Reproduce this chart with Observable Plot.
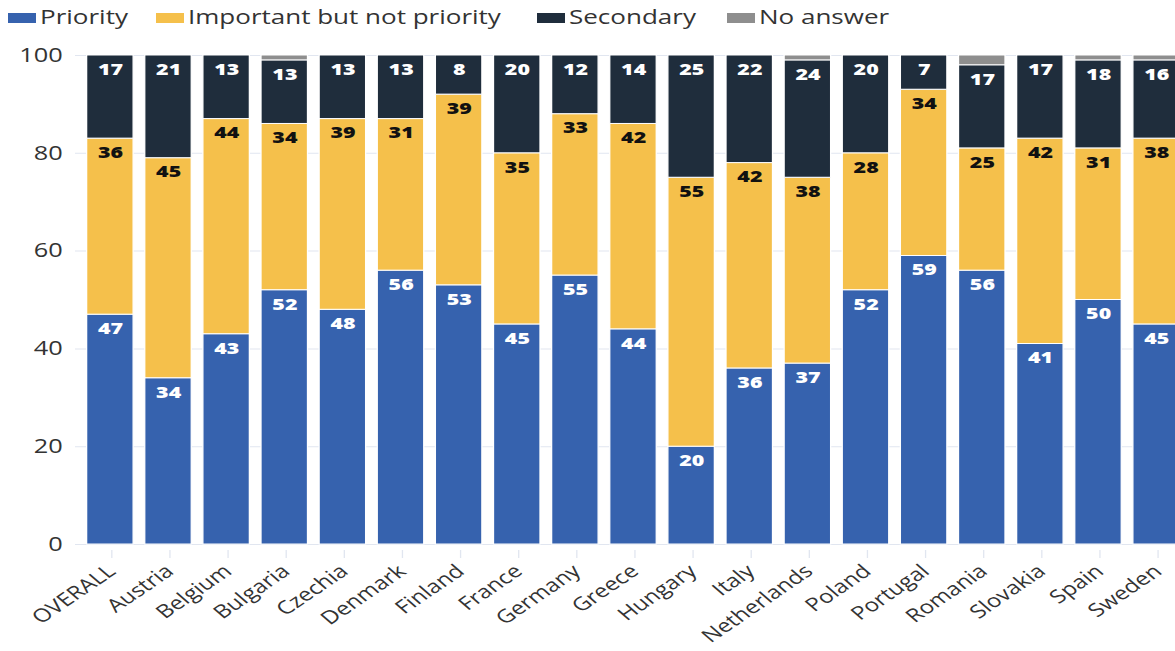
<!DOCTYPE html>
<html><head><meta charset="utf-8">
<script src="https://cdn.jsdelivr.net/npm/d3@7"></script>
<script src="https://cdn.jsdelivr.net/npm/@observablehq/plot@0.6"></script>
<style>
body{margin:0;background:#fff;overflow:hidden;font-family:"Open Sans",sans-serif;}
#legend{height:36px;position:relative;font-size:20px;color:#333;white-space:nowrap;}
#legend .sw{position:absolute;top:13px;height:10px;}
#legend .tx{position:absolute;top:3px;line-height:28px;transform:scaleX(1.3);transform-origin:0 0;}
#chart svg{max-width:none !important;display:block;}
</style></head>
<body>
<div id="legend"></div>
<div id="chart"></div>
<script>
const categories = ["OVERALL","Austria","Belgium","Bulgaria","Czechia","Denmark","Finland","France","Germany","Greece","Hungary","Italy","Netherlands","Poland","Portugal","Romania","Slovakia","Spain","Sweden"];
const priority  = [47,34,43,52,48,56,53,45,55,44,20,36,37,52,59,56,41,50,45];
const important = [36,45,44,34,39,31,39,35,33,42,55,42,38,28,34,25,42,31,38];
const secondary = [17,21,13,13,13,13,8,20,12,14,25,22,24,20,7,17,17,18,16];
const noAnswer  = [0,0,0,1,0,0,0,0,0,0,0,0,1,0,0,2,0,1,1];
const seriesNames = ["Priority","Important but not priority","Secondary","No answer"];
const seriesColors = ["#3662ae","#f5c04b","#1f2d3c","#8e8e8e"];
const labelColors = ["#ffffff","#111111","#ffffff",null];
const yTicks = [0,20,40,60,80,100];

const seriesValues = [priority, important, secondary, noAnswer];
const rows = [];
categories.forEach((c, i) => {
  seriesValues.forEach((vals, s) => {
    rows.push({category: c, series: seriesNames[s], order: s, value: vals[i]});
  });
});

// legend layout (page pixels)
const legendSwatchX = [8, 156, 537, 727];
const legendSwatchW = 28;
const legend = document.getElementById("legend");
seriesNames.forEach((n, i) => {
  const sw = document.createElement("div"); sw.className = "sw";
  sw.style.left = legendSwatchX[i] + "px"; sw.style.width = legendSwatchW + "px";
  sw.style.background = seriesColors[i];
  const t = document.createElement("span"); t.className = "tx"; t.textContent = n;
  t.style.left = (legendSwatchX[i] + legendSwatchW + 4) + "px";
  legend.appendChild(sw); legend.appendChild(t);
});

// The reference is horizontally stretched; draw at a narrower width and stretch the SVG.
const stretch = 1.3;
const outW = 1193, outH = 615;
const W = outW / stretch;

const stackOpts = {x: "category", y: "value", z: "series"};
const labelRows = rows.filter(d => d.order < 3 && d.value > 0);

const chart = Plot.plot({
  width: W,
  height: outH,
  marginLeft: 75 / stretch,
  marginRight: 2 / stretch,
  marginTop: 19,
  marginBottom: 107,
  style: {fontFamily: "'Open Sans', sans-serif", background: "#fff"},
  x: {domain: categories, padding: 0.2, round: false, label: null},
  y: {domain: [0, 100], label: null},
  color: {domain: seriesNames, range: seriesColors},
  marks: [
    Plot.gridY(yTicks, {stroke: "#e1e6f0", strokeOpacity: 1}),
    Plot.barY(rows, Plot.stackY({...stackOpts, fill: "series", order: "order", stroke: "#fff", strokeWidth: 1})),
    Plot.text(labelRows, Plot.stackY2({...stackOpts, order: "order", text: d => String(d.value),
      fill: d => labelColors[d.order], dy: 14, fontSize: 16.5, fontWeight: 800})),
    Plot.axisX({tickRotate: -41.5, tickSize: 8, stroke: "#e1e6f0", strokeOpacity: 1, fontSize: 18.5, fill: "#333", tickPadding: 10, dx: 1, dy: 6}),
    Plot.axisY({ticks: yTicks, tickSize: 0, tickPadding: 10, fontSize: 19.5, fill: "#333"})
  ]
});
chart.setAttribute("width", outW);
chart.setAttribute("height", outH);
chart.setAttribute("viewBox", `0 0 ${W} ${outH}`);
chart.setAttribute("preserveAspectRatio", "none");
chart.style.width = outW + "px";
chart.style.height = outH + "px";
document.getElementById("chart").appendChild(chart);
</script>
</body></html>
